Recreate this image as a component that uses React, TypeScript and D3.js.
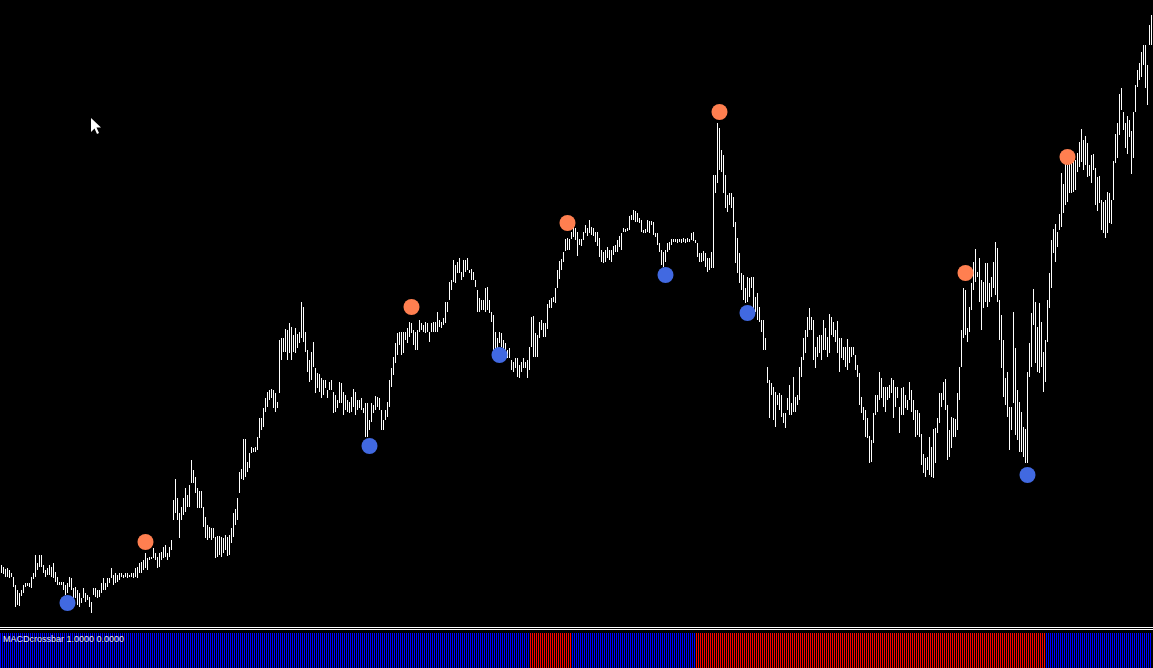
import React from "react";
import * as d3 from "d3";

// Bar highs and lows (price points), one per bar, left to right
const highs: number[] = [
  55,53,51,52,50,47,43,35,30,27,
  30,35,37,37,37,43,47,65,57,65,
  65,55,50,52,55,53,57,48,43,38,
  38,38,35,37,43,42,32,33,30,27,
  22,32,27,25,23,18,32,32,30,30,
  37,42,37,42,42,52,45,47,45,47,
  47,45,47,47,45,47,47,52,53,57,
  58,60,67,62,63,63,72,67,63,67,
  68,73,75,67,73,80,120,141,122,107,
  113,122,132,125,135,160,150,143,132,129,
  129,113,103,95,93,92,92,83,84,84,
  83,82,85,83,85,92,107,111,122,148,
  151,181,181,158,167,173,172,173,183,202,
  202,212,222,228,230,231,230,227,218,280,
  282,282,291,290,297,293,285,292,286,288,
  318,313,288,270,260,268,278,252,247,246,
  242,240,240,230,238,240,228,225,220,238,
  237,228,225,220,218,223,231,228,220,220,
  222,212,217,217,200,217,215,224,223,222,
  210,200,210,218,240,252,263,277,287,288,
  288,288,288,292,298,297,290,288,290,300,
  297,295,298,297,288,297,298,298,308,300,
  298,302,318,318,338,340,360,355,358,362,
  348,360,360,362,350,351,348,340,330,322,
  320,320,332,333,320,308,305,288,282,288,
  287,280,277,270,272,260,258,262,262,255,
  258,262,258,260,273,303,304,287,285,298,
  300,297,297,316,320,322,323,332,350,359,
  361,368,381,382,381,388,394,392,388,381,
  381,388,395,392,400,393,392,388,388,382,
  370,368,370,373,370,370,374,375,380,384,
  387,392,391,392,404,405,410,409,407,402,
  400,390,391,400,399,399,398,387,387,377,
  370,368,370,377,378,381,381,381,381,381,
  381,382,381,382,381,387,388,380,377,367,
  367,369,367,362,362,368,445,445,497,492,
  470,465,445,425,427,427,423,398,382,367,
  347,345,332,343,342,343,343,323,327,313,
  300,300,282,253,240,237,233,228,225,227,
  225,207,207,222,235,217,243,223,225,253,
  263,282,290,303,312,303,300,273,283,285,
  285,300,292,283,306,303,298,290,299,282,
  282,273,273,281,273,273,273,265,255,247,
  223,213,210,202,184,180,207,225,225,248,
  242,233,233,233,235,242,240,233,233,213,
  232,233,225,220,238,230,220,210,210,207,
  186,166,162,163,183,173,191,192,202,227,
  227,238,241,215,190,203,202,201,227,253,
  290,332,330,292,313,337,358,371,348,362,
  340,338,357,357,337,343,358,378,372,320,
  305,280,242,248,213,213,308,272,230,218,
  208,193,191,248,277,307,331,318,293,317,
  298,268,280,320,347,380,391,396,388,406,
  447,436,456,455,457,458,467,460,467,478,
  491,480,484,477,455,465,466,452,443,444,
  420,418,420,428,427,420,459,486,497,526,
  532,508,497,504,500,489,508,535,550,557,
  568,575,575,555,595,605,
];

const lows: number[] = [
  47,46,43,43,42,43,33,13,15,14,
  24,27,33,34,33,32,41,43,50,53,
  53,47,43,45,45,43,42,38,35,35,
  35,30,25,27,33,30,22,22,15,13,
  17,22,18,20,13,7,25,23,22,23,
  27,30,30,33,37,42,35,37,38,40,
  43,42,43,42,43,43,42,43,42,47,
  47,50,52,50,60,61,62,60,52,53,
  60,62,63,60,63,70,100,107,100,82,
  100,105,108,113,113,137,137,127,112,112,
  112,93,82,80,82,80,82,62,63,65,
  63,67,70,64,65,77,83,95,100,127,
  141,140,143,148,152,167,168,168,170,182,
  190,193,208,213,220,222,212,208,212,227,
  260,268,268,260,267,260,268,267,272,277,
  282,278,268,248,238,240,253,227,232,228,
  222,225,232,222,230,230,207,208,212,217,
  217,205,210,208,207,208,213,205,210,212,
  210,207,183,183,190,198,207,210,213,210,
  190,190,200,203,213,233,245,257,265,275,
  265,267,280,277,283,287,275,270,270,288,
  290,288,287,288,278,288,288,288,288,293,
  292,295,297,308,320,330,338,337,347,347,
  340,343,348,350,347,340,340,333,308,308,
  310,310,308,310,307,298,270,267,263,277,
  273,268,270,262,262,250,248,252,243,242,
  248,252,252,242,250,273,263,263,263,282,
  290,283,283,291,312,312,318,317,332,341,
  350,358,369,370,370,381,383,380,364,375,
  374,380,387,384,387,385,384,378,374,363,
  358,357,358,362,360,358,365,368,368,373,
  370,388,388,389,390,400,400,398,398,397,
  388,387,387,388,387,395,385,383,375,368,
  355,353,358,368,370,375,378,378,377,378,
  377,378,377,378,378,380,379,377,363,358,
  358,359,353,348,350,352,352,427,437,450,
  448,427,412,408,415,412,393,357,347,337,
  330,320,317,318,323,332,310,308,300,298,
  288,270,270,237,202,225,200,193,215,210,
  203,197,192,210,205,205,208,208,215,220,
  243,260,267,283,290,290,260,252,263,267,
  260,270,270,263,267,285,283,278,267,248,
  262,260,253,250,257,263,265,250,243,215,
  207,200,183,182,157,158,177,205,208,220,
  222,213,208,220,222,227,202,213,222,187,
  205,205,212,210,220,208,200,183,185,183,
  155,147,143,150,145,143,142,157,187,197,
  213,220,210,160,163,172,183,183,190,220,
  253,282,285,278,288,310,330,338,343,318,
  290,312,318,313,318,323,332,325,318,280,
  252,223,215,203,170,190,217,185,180,168,
  168,163,157,157,243,253,295,257,248,247,
  253,228,238,278,312,332,367,358,373,390,
  393,407,415,418,427,427,428,430,448,453,
  458,450,455,443,444,437,450,415,409,417,
  390,387,382,387,397,396,420,457,462,485,
  510,490,472,466,483,446,462,508,533,540,
  543,555,532,515,575,575,
];

// Swing markers (bar index, price)
const peakIdx: number[] = [72, 205, 283, 359, 482, 533];
const peakPrice: number[] = [78, 313, 397, 508, 347, 463];
const troughIdx: number[] = [33, 184, 249, 332, 373, 513];
const troughPrice: number[] = [17, 174, 265, 345, 307, 145];

// MACD crossbar: bar ranges where MACD is below signal (red); rest is blue
const bearStart: number[] = [265, 348];
const bearEnd: number[] = [285, 522];

const indicatorLabel = "MACDcrossbar 1.0000 0.0000";

const W = 1153;
const H = 668;

export default function App() {
  const n = highs.length;
  const x = d3.scaleLinear().domain([0, n - 1]).range([1, 2 * (n - 1) + 1]);
  const y = d3.scaleLinear().domain([0, 620]).range([620, 0]);

  const isBear = (i: number) =>
    bearStart.some((s, k) => i >= s && i <= bearEnd[k]);

  const panelTop = 633;

  return (
    <svg
      width={W}
      height={H}
      style={{ position: "absolute", left: 0, top: 0, display: "block" }}
      shapeRendering="crispEdges"
    >
      <rect x={0} y={0} width={W} height={H} fill="#000" />
      {highs.map((h, i) => {
        const top = Math.round(y(h));
        const bot = Math.round(y(lows[i]));
        return (
          <rect
            key={"b" + i}
            x={Math.round(x(i))}
            y={top}
            width={1}
            height={Math.max(1, bot - top)}
            fill="#fff"
          />
        );
      })}
      <g shapeRendering="geometricPrecision">
        {peakIdx.map((p, k) => (
          <circle key={"p" + k} cx={x(p) + 0.5} cy={y(peakPrice[k])} r={8} fill="#FF7F50" />
        ))}
        {troughIdx.map((t, k) => (
          <circle key={"t" + k} cx={x(t) + 0.5} cy={y(troughPrice[k])} r={8} fill="#4169E1" />
        ))}
      </g>
      {/* separator */}
      <rect x={0} y={627} width={W} height={1} fill="#fff" />
      <rect x={0} y={629} width={W} height={1} fill="#fff" />
      {/* indicator panel */}
      {highs.map((_, i) => (
        <rect
          key={"m" + i}
          x={Math.round(x(i)) - 1}
          y={panelTop}
          width={1}
          height={H - panelTop}
          fill={isBear(i) ? "#FF0000" : "#0000FF"}
        />
      ))}
      <text
        x={3}
        y={642}
        fill="#e6e6e6"
        fontFamily="'Liberation Sans', Arial, sans-serif"
        fontSize={9}
        shapeRendering="geometricPrecision"
      >
        {indicatorLabel}
      </text>
      {/* mouse cursor */}
      <path
        d="M0 0 L0 14 L3.5 10.5 L6 16 L8 15 L5.5 9.5 L10 9.5 Z"
        transform="translate(91,118)"
        fill="#fff"
        shapeRendering="geometricPrecision"
      />
    </svg>
  );
}
